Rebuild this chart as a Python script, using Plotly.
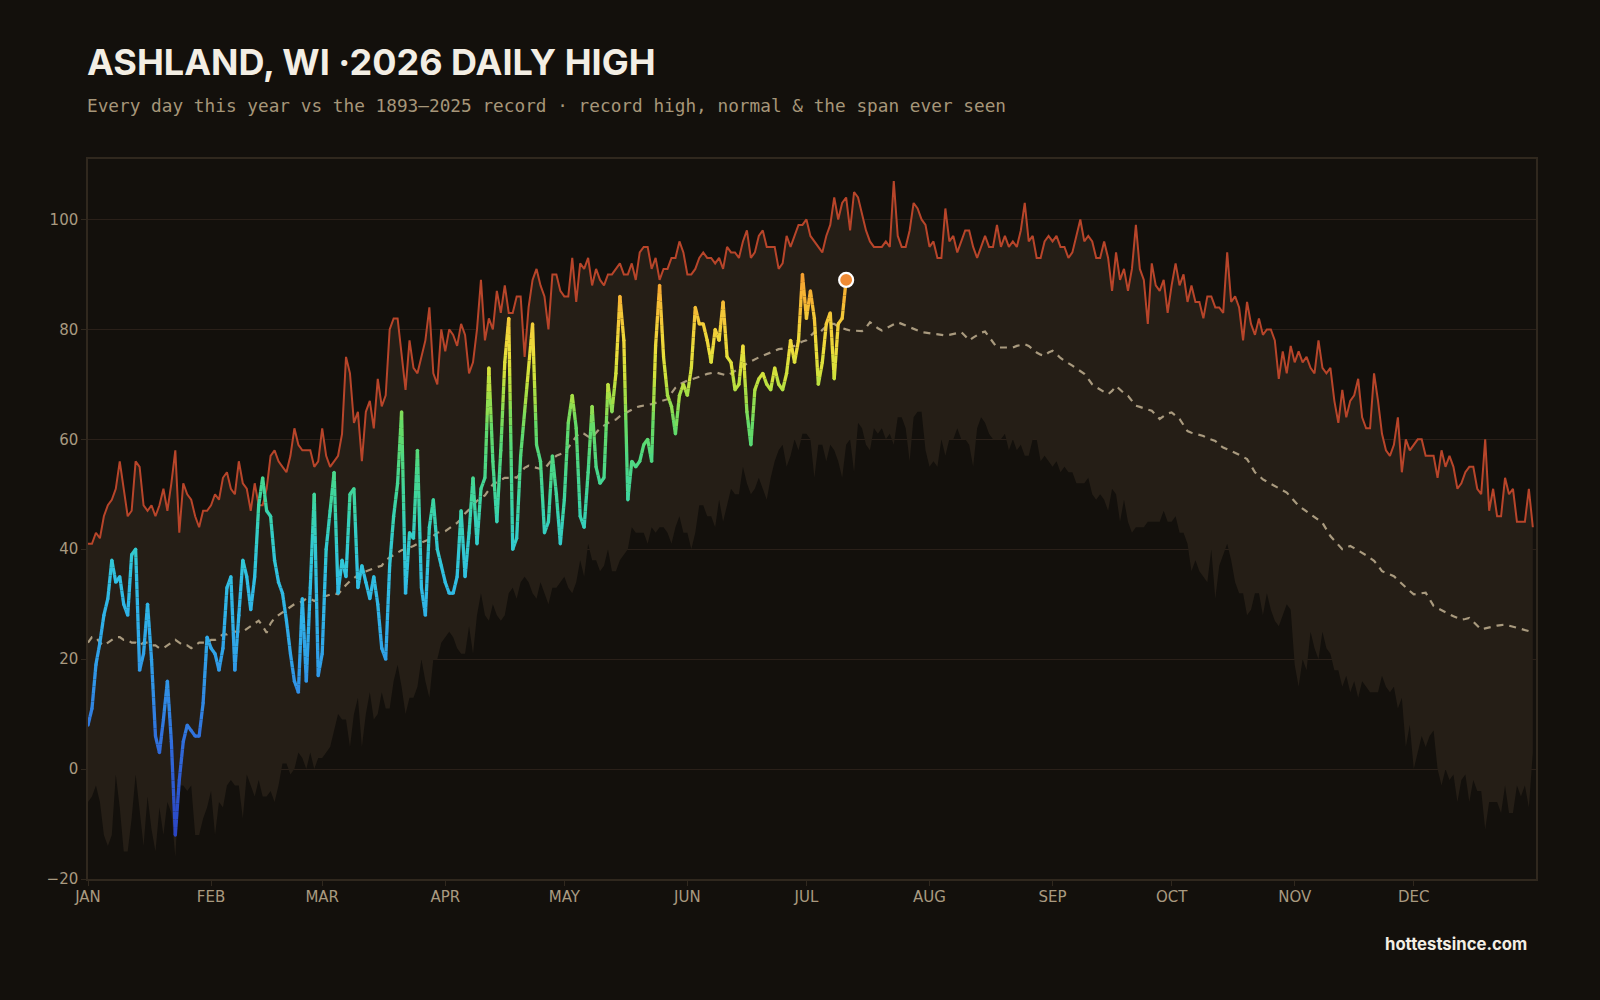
import math
import plotly.graph_objects as go

# ---------------- data ----------------
days = list(range(365))

record_high = [
    41, 41, 43, 42, 46, 48, 49, 51, 56, 51,
    46, 47, 56, 55, 48, 47, 48, 46, 48, 51,
    47, 52, 58, 43, 52, 50, 49, 46, 44, 47,
    47, 48, 50, 49, 53, 54, 51, 50, 56, 52,
    51, 47, 52, 48, 48, 51, 57, 58, 56, 55,
    54, 57, 62, 59, 58, 58, 58, 55, 56, 62,
    57, 55, 56, 57, 61, 75, 72, 63, 65, 56,
    65, 67, 62, 71, 66, 68, 80, 82, 82, 75,
    69, 78, 73, 72, 75, 78, 84, 72, 70, 80,
    76, 80, 79, 77, 81, 79, 72, 74, 80, 89,
    78, 82, 80, 87, 83, 88, 83, 83, 86, 86,
    75, 84, 89, 91, 88, 86, 80, 90, 90, 87,
    86, 86, 93, 85, 92, 91, 93, 88, 91, 89,
    88, 90, 90, 91, 92, 90, 90, 92, 89, 94,
    95, 95, 91, 93, 89, 91, 91, 93, 93, 96,
    94, 90, 90, 91, 93, 94, 93, 93, 92, 93,
    91, 95, 94, 94, 93, 96, 98, 93, 94, 97,
    98, 95, 95, 95, 91, 92, 97, 95, 97, 99,
    99, 100, 97, 96, 95, 94, 97, 99, 104, 100,
    103, 104, 98, 105, 104, 101, 98, 96, 95, 95,
    95, 96, 95, 107, 97, 95, 95, 98, 103, 102,
    100, 99, 95, 96, 93, 93, 102, 96, 97, 94,
    96, 98, 98, 95, 93, 95, 97, 95, 95, 99,
    95, 97, 95, 96, 95, 98, 103, 96, 97, 93,
    93, 96, 97, 96, 97, 95, 95, 93, 94, 97,
    100, 96, 97, 96, 93, 93, 96, 93, 87, 94,
    89, 91, 87, 91, 99, 91, 89, 81, 92, 88,
    87, 89, 83, 88, 92, 88, 90, 85, 88, 85,
    85, 82, 86, 86, 84, 84, 83, 94, 85, 86,
    84, 78, 85, 81, 79, 82, 79, 80, 80, 78,
    71, 76, 72, 77, 74, 76, 74, 75, 73, 72,
    78, 73, 72, 73, 67, 63, 69, 64, 67, 68,
    71, 64, 62, 62, 72, 67, 61, 58, 57, 59,
    64, 54, 60, 58, 59, 60, 60, 57, 57, 57,
    53, 58, 55, 57, 55, 51, 52, 54, 55, 55,
    51, 50, 60, 47, 51, 46, 46, 53, 50, 51,
    45, 45, 45, 51, 44,
]

record_low = [
    -6, -5, -3, -6, -12, -14, -12, -1, -7, -15,
    -15, -9, -1, -7, -14, -5, -11, -15, -7, -12,
    -6, -8, -16, -3, -3, -4, -3, -12, -12, -9,
    -7, -4, -12, -6, -7, -3, -2, -3, -3, -9,
    -1, -3, -5, -2, -5, -5, -4, -6, -3, 1,
    1, -1, 0, 3, 2, 0, 3, 0, 2, 2,
    3, 4, 7, 10, 9, 9, 4, 10, 13, 4,
    10, 14, 9, 10, 14, 11, 11, 16, 19, 15,
    10, 13, 13, 15, 20, 16, 13, 20, 20, 23,
    24, 25, 24, 22, 21, 21, 26, 21, 28, 32,
    28, 27, 30, 28, 27, 28, 32, 33, 31, 34,
    35, 34, 32, 31, 34, 32, 30, 33, 33, 34,
    35, 33, 32, 34, 38, 35, 41, 38, 38, 36,
    37, 40, 36, 36, 38, 39, 40, 44, 43, 43,
    43, 41, 44, 43, 44, 44, 43, 41, 44, 46,
    43, 43, 40, 43, 48, 48, 46, 46, 44, 49,
    45, 48, 51, 50, 50, 55, 52, 50, 51, 53,
    51, 49, 53, 56, 58, 59, 55, 57, 60, 58,
    61, 61, 60, 53, 59, 59, 56, 59, 58, 56,
    53, 59, 60, 54, 63, 62, 59, 58, 62, 61,
    62, 60, 61, 59, 64, 64, 62, 56, 64, 65,
    65, 58, 55, 56, 55, 60, 57, 60, 60, 62,
    60, 60, 59, 55, 62, 64, 63, 61, 60, 60,
    60, 61, 58, 60, 58, 59, 57, 57, 60, 60,
    56, 57, 56, 55, 56, 54, 55, 54, 54, 52,
    52, 52, 53, 50, 49, 50, 49, 47, 51, 50,
    45, 49, 45, 43, 44, 44, 44, 45, 45, 45,
    45, 47, 45, 45, 46, 43, 43, 41, 36, 38,
    36, 35, 34, 40, 31, 37, 39, 41, 38, 34,
    32, 32, 28, 29, 32, 32, 28, 32, 29, 27,
    26, 28, 30, 29, 19, 15, 20, 18, 25, 22,
    20, 25, 22, 21, 18, 18, 15, 17, 14, 16,
    13, 16, 15, 14, 14, 14, 17, 15, 14, 15,
    11, 13, 4, 8, 0, 3, 6, 4, 6, 7,
    0, -3, 0, -2, -1, -6, -2, -1, -6, -2,
    -4, -4, -11, -6, -6, -6, -8, -3, -8, -8,
    -3, -5, -3, -7, 3,
]

normal = [
    23, 24, 24, 23, 22.5, 23, 23.5, 24, 24, 23.5,
    23.5, 23, 23, 22.5, 23, 23, 22.5, 22.5, 22, 22,
    22.5, 23, 23.5, 23, 22.5, 22.5, 22, 22.5, 23, 23,
    23, 23.5, 23.5, 24, 24.5, 24.5, 25, 25, 25, 25,
    25.5, 26, 26.5, 27, 26, 24.8, 26.5, 27.5, 28, 28.5,
    29, 29.5, 30, 30.3, 30.5, 31, 31, 30.6, 31, 31.5,
    31.5, 31.8, 32, 31.8, 32.7, 33.5, 34.2, 34.8, 35.3, 35.7,
    36, 36.3, 36.5, 36.8, 37, 38, 38.5, 39, 39.4, 39.8,
    40, 40.3, 40.6, 41, 41.2, 41.5, 41.8, 42.4, 43, 43.2,
    43.3, 43.8, 44.3, 44.8, 45.5, 46.5, 47.2, 48, 48.8, 49.3,
    49.8, 50.8, 51.8, 52.2, 52.6, 53, 53, 53.2, 53, 54,
    54.8, 55.2, 55, 54.8, 54.6, 54.6, 55.5, 56.4, 57, 57.3,
    57.6, 58.5, 59.5, 60.5, 61.2, 61, 60.5, 60.3, 61.2, 62,
    62.5, 63, 63.4, 63.6, 64.2, 64.6, 65, 65.4, 65.8, 66,
    66.2, 66.3, 66.4, 66.6, 66.8, 67, 67.3, 68.4, 69.4, 70,
    70.4, 70.7, 70.9, 71.1, 71.3, 71.6, 71.9, 72.1, 72.2, 72,
    71.8, 71.6, 72, 72.4, 72.8, 73.3, 73.8, 74.2, 74.6, 74.9,
    75.2, 75.5, 75.8, 76.1, 76.4, 76.5, 76.7, 76.9, 77, 77.4,
    77.8, 78, 78.8, 79.5, 79.2, 80, 80.6, 81, 81, 80.5,
    80.2, 80, 79.8, 79.8, 79.7, 79.7, 80.3, 81.3, 80.8, 80.2,
    79.8, 80.2, 80.6, 81, 81.3, 81, 80.7, 80.5, 80.1, 79.8,
    79.5, 79.4, 79.3, 79.2, 79.2, 79, 78.9, 79, 79.2, 79.4,
    79.5, 78.8, 78, 78.5, 79, 79.4, 79.6, 78.6, 77.5, 76.7,
    76.7, 76.7, 76.6, 76.7, 77, 77.2, 77.3, 77, 76.4, 75.8,
    75.4, 75.2, 75.8, 76.1, 75.5, 74.8, 74.3, 73.9, 73.4, 72.9,
    72.4, 71.9, 71, 70, 69.5, 69, 68.6, 68.2, 68.8, 69.7,
    69, 68.4, 67.9, 67, 66.1, 65.9, 65.6, 65.4, 65.2, 64.4,
    63.7, 64.2, 64.7, 64.9, 64.3, 63.7, 62.6, 61.5, 61.2, 61,
    60.9, 60.6, 60.2, 59.9, 59.7, 59, 58.5, 58.2, 57.9, 57.6,
    57.2, 56.8, 56.4, 55.2, 54, 53.4, 52.7, 52.3, 51.9, 51.5,
    51.2, 50.8, 50.3, 49.5, 48.7, 47.9, 47.4, 46.9, 46.4, 45.9,
    45.3, 44.8, 43.6, 42.4, 41.6, 40.8, 40, 40.3, 40.6, 40.2,
    39.8, 39.4, 38.9, 38.4, 37.9, 37, 36, 35.7, 35.4, 35.1,
    34.4, 33.7, 33, 32.4, 31.8, 31.9, 32, 32.1, 30.9, 29.7,
    29.3, 28.9, 28.5, 28.1, 27.8, 27.5, 27.2, 27.3, 27.5, 26.8,
    26.1, 25.4, 25.6, 25.8, 26, 26.1, 26.2, 26.3, 26.1, 25.9,
    25.7, 25.5, 25.3, 25.1, 25.7,
]

highs_2026 = [
    8, 11, 19, 23, 28, 31, 38, 34, 35, 30,
    28, 39, 40, 18, 21, 30, 20, 6, 3, 9,
    16, 5, -12, -2, 5, 8, 7, 6, 6, 12,
    24, 22, 21, 18, 22, 33, 35, 18, 28, 38,
    35, 29, 35, 48, 53, 47, 46, 38, 34, 32,
    27, 21, 16, 14, 31, 16, 33, 50, 17, 21,
    40, 47, 54, 32, 38, 35, 50, 51, 33, 37,
    34, 31, 35, 30, 22, 20, 37, 46, 52, 65,
    32, 43, 42, 58, 33, 28, 44, 49, 40, 37,
    34, 32, 32, 35, 47, 35, 43, 53, 41, 51,
    53, 73, 56, 45, 58, 74, 82, 40, 42, 57,
    65, 73, 81, 59, 56, 43, 45, 57, 50, 41,
    49, 63, 68, 62, 46, 44, 54, 66, 55, 52,
    53, 70, 65, 72, 86, 78, 49, 56, 55, 56,
    59, 60, 56, 77, 88, 75, 68, 66, 61, 68,
    70, 68, 73, 84, 81, 81, 78, 74, 80, 78,
    85, 75, 74, 69, 70, 77, 65, 59, 69, 71,
    72, 70, 69, 73, 70, 69, 72, 78, 74, 78,
    90, 82, 87, 82, 70, 74, 81, 83, 71, 81,
    82, 89,
]
days_2026 = list(range(len(highs_2026)))

month_ticks = [0, 31, 59, 90, 120, 151, 181, 212, 243, 273, 304, 334]
month_labels = ["JAN", "FEB", "MAR", "APR", "MAY", "JUN",
                "JUL", "AUG", "SEP", "OCT", "NOV", "DEC"]
y_ticks = [-20, 0, 20, 40, 60, 80, 100]

# ---------------- styling ----------------
BG = "#13100c"
BAND = "#251e16"
GRID = "#2a2019"
FRAME = "#30281e"
TICK = "#a99a80"
RED = "#b8452a"
NORMAL_C = "#a99a7e"

color_stops = [
    (-15, (42, 63, 191)), (-5, (45, 85, 207)), (5, (49, 111, 220)),
    (15, (49, 146, 230)), (25, (48, 173, 233)), (35, (49, 192, 226)),
    (42, (52, 205, 200)), (48, (60, 212, 165)), (55, (75, 216, 135)),
    (62, (100, 219, 105)), (68, (165, 223, 70)), (72, (210, 225, 60)),
    (76, (235, 222, 60)), (81, (242, 205, 58)), (86, (246, 180, 52)),
    (90, (245, 160, 48)),
]


def temp_color(v):
    if v <= color_stops[0][0]:
        c = color_stops[0][1]
    elif v >= color_stops[-1][0]:
        c = color_stops[-1][1]
    else:
        for (a, ca), (b, cb) in zip(color_stops[:-1], color_stops[1:]):
            if a <= v <= b:
                t = (v - a) / (b - a)
                c = tuple(ca[i] + t * (cb[i] - ca[i]) for i in range(3))
                break
    return "rgb(%d,%d,%d)" % tuple(int(round(x)) for x in c)


fig = go.Figure()

# band between record low and record high
fig.add_trace(go.Scatter(x=days, y=record_low, mode="lines",
                         line=dict(width=0, color="rgba(0,0,0,0)"),
                         hoverinfo="skip", showlegend=False))
fig.add_trace(go.Scatter(x=days, y=record_high, mode="lines",
                         line=dict(width=0, color="rgba(0,0,0,0)"),
                         fill="tonexty", fillcolor=BAND,
                         hoverinfo="skip", showlegend=False))

# normal (dashed)
fig.add_trace(go.Scatter(x=days, y=normal, mode="lines",
                         line=dict(color=NORMAL_C, width=2.2, dash="7px,6px"),
                         hoverinfo="skip", showlegend=False))

# record high line
fig.add_trace(go.Scatter(x=days, y=record_high, mode="lines",
                         line=dict(color=RED, width=2),
                         hoverinfo="skip", showlegend=False))

# 2026 line coloured by temperature (segments split into colour bins)
BIN = 2.0
groups = {}
for i in range(len(highs_2026) - 1):
    x0, x1 = days_2026[i], days_2026[i + 1]
    v0, v1 = highs_2026[i], highs_2026[i + 1]
    n = max(1, int(math.ceil(abs(v1 - v0) / 1.5)))
    for k in range(n):
        t0, t1 = k / n, (k + 1) / n
        xa, xb = x0 + t0 * (x1 - x0), x0 + t1 * (x1 - x0)
        ya, yb = v0 + t0 * (v1 - v0), v0 + t1 * (v1 - v0)
        b = round(((ya + yb) / 2) / BIN) * BIN
        gx, gy = groups.setdefault(b, ([], []))
        gx += [xa, xb, None]
        gy += [ya, yb, None]

for b in sorted(groups):
    gx, gy = groups[b]
    fig.add_trace(go.Scatter(x=gx, y=gy, mode="lines",
                             line=dict(color=temp_color(b), width=3.3),
                             hoverinfo="skip", showlegend=False))

fig.add_trace(go.Scatter(x=days_2026, y=highs_2026, mode="markers",
                         marker=dict(size=3.3, color=[temp_color(v) for v in highs_2026],
                                     line=dict(width=0)),
                         hoverinfo="skip", showlegend=False))

# latest day dot
fig.add_trace(go.Scatter(x=[days_2026[-1]], y=[highs_2026[-1]], mode="markers",
                         marker=dict(size=14, color="#ef8a34",
                                     line=dict(color="#ffffff", width=2.2)),
                         hoverinfo="skip", showlegend=False))

# ---------------- layout ----------------
PLOT_TOP, PLOT_BOTTOM, PLOT_H = 159, 879, 720


def py(ypix):
    return (PLOT_BOTTOM - ypix) / PLOT_H


fig.update_layout(
    width=1600, height=1000,
    margin=dict(l=88, r=64, t=159, b=121),
    paper_bgcolor=BG, plot_bgcolor=BG,
    showlegend=False,
    xaxis=dict(range=[0, 364.8], tickmode="array", tickvals=month_ticks,
               ticktext=month_labels, ticks="outside", ticklen=5,
               tickcolor=FRAME, tickwidth=1, showgrid=False, zeroline=False,
               showline=True, linecolor=FRAME, linewidth=1.5, mirror=True,
               ticklabelstandoff=-2,
               tickfont=dict(family="DejaVu Sans", size=15, color=TICK)),
    yaxis=dict(range=[-20, 111], tickmode="array", tickvals=y_ticks,
               ticks="outside", ticklen=5, tickcolor=FRAME, tickwidth=1,
               showgrid=True, gridcolor=GRID, gridwidth=1, zeroline=False,
               showline=True, linecolor=FRAME, linewidth=1.5, mirror=True,
               tickfont=dict(family="DejaVu Sans", size=15, color=TICK)),
    annotations=[
        dict(text="ASHLAND, WI ·2026 DAILY HIGH", xref="paper", yref="paper",
             x=-0.002, y=py(62), xanchor="left", yanchor="middle", showarrow=False,
             font=dict(family="Inter", size=36, color="#f3eee4", weight="bold")),
        dict(text="Every day this year vs the 1893–2025 record · record high, normal &amp; the span ever seen",
             xref="paper", yref="paper", x=-0.002, y=py(106), xanchor="left",
             yanchor="middle", showarrow=False,
             font=dict(family="DejaVu Sans Mono", size=17.75, color="#a69679")),
        dict(text="hottestsince.com", xref="paper", yref="paper",
             x=(1529 - 88) / 1448, y=py(944), xanchor="right", yanchor="middle",
             showarrow=False,
             font=dict(family="Inter", size=16.7, color="#f3eee4", weight="bold")),
    ],
)

fig.write_html("out.html")
